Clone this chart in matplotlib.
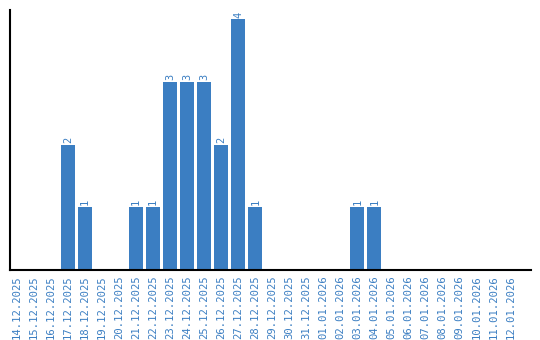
import matplotlib
matplotlib.use("Agg")
import matplotlib.pyplot as plt

# ---------- DATA ----------
DATES = [
    "14.12.2025", "15.12.2025", "16.12.2025", "17.12.2025", "18.12.2025",
    "19.12.2025", "20.12.2025", "21.12.2025", "22.12.2025", "23.12.2025",
    "24.12.2025", "25.12.2025", "26.12.2025", "27.12.2025", "28.12.2025",
    "29.12.2025", "30.12.2025", "31.12.2025", "01.01.2026", "02.01.2026",
    "03.01.2026", "04.01.2026", "05.01.2026", "06.01.2026", "07.01.2026",
    "08.01.2026", "09.01.2026", "10.01.2026", "11.01.2026", "12.01.2026",
]
COUNTS = [0, 0, 0, 2, 1, 0, 0, 1, 1, 3, 3, 3, 2, 4, 1,
          0, 0, 0, 0, 0, 1, 1, 0, 0, 0, 0, 0, 0, 0, 0]

BAR_COLOR = "#3b7ec2"

fig = plt.figure(figsize=(5.4, 3.4), dpi=100)
ax = fig.add_axes([10 / 540, 70 / 340, 521 / 540, 260 / 340])

x = list(range(len(DATES)))
bars = ax.bar(x, COUNTS, width=0.82, color=BAR_COLOR)

for xi, v in zip(x, COUNTS):
    if v > 0:
        ax.text(xi, v + 0.03, str(v), rotation=90, ha="center", va="bottom",
                color=BAR_COLOR, fontsize=7.5, family="DejaVu Sans Mono")

ax.set_xlim(-0.41, 30.2)
ax.set_ylim(0, 4.15)
ax.set_xticks(x)
ax.set_xticklabels(DATES, rotation=90, color=BAR_COLOR, fontsize=7.6,
                   family="DejaVu Sans Mono", va="top")
ax.tick_params(axis="x", length=0, pad=4)
ax.set_yticks([])

for side in ["top", "right"]:
    ax.spines[side].set_visible(False)
ax.spines["left"].set_linewidth(1.5)
ax.spines["bottom"].set_linewidth(1.5)

fig.savefig("out.png", dpi=100)
